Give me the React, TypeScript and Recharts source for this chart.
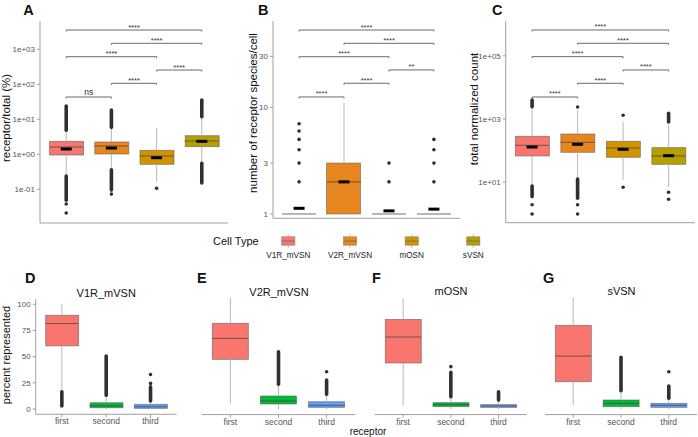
import React from 'react';
import { ComposedChart, Bar, Scatter, XAxis, YAxis, ReferenceLine } from 'recharts';

const FONT = '"Liberation Sans", Arial, Helvetica, sans-serif';

// ---------- categories ----------
const cellTypes = ['V1R_mVSN', 'V2R_mVSN', 'mOSN', 'sVSN'];
const cellColors = ['#F8766D', '#E7851E', '#D19300', '#B79F00'];
const ranks = ['first', 'second', 'third'];
const rankColors = ['#F8766D', '#00BA38', '#619CFF'];

// ---------- Panel A: receptor/total (%) ----------
const aQ1 = [0.955, 1.02, 0.518, 1.65];
const aMedian = [1.62, 1.73, 0.894, 2.4];
const aQ3 = [2.35, 2.25, 1.3, 3.4];
const aMean = [1.42, 1.51, 0.8, 2.35];
const aWhiskerLow = [0.256, 0.41, 0.162, 0.56];
const aWhiskerHigh = [4.6, 5.6, 5.64, 11.6];
const aOutlierRuns = [[1, 4.9, 24], [1, 0.049, 0.24], [2, 5.9, 18.4], [2, 0.095, 0.36], [4, 11.9, 35.6], [4, 0.151, 0.55]];
const aOutliers = [[1, 0.038], [1, 0.021], [2, 0.073], [3, 0.107]];
const aBrackets = [[1, 2, 43.4, 'ns'], [2, 3, 106.8, '****'], [3, 4, 256, '****'], [1, 3, 615, '****'], [2, 4, 1483, '****'], [1, 4, 3560, '****']];
const aTicks = [0.1, 1, 10, 100, 1000];

// ---------- Panel B: number of receptor species/cell ----------
const bQ1 = [1, 1, 1, 1];
const bMedian = [1, 2, 1, 1];
const bQ3 = [1, 3, 1, 1];
const bMean = [1.13, 2.0, 1.07, 1.11];
const bWhiskerLow = [1, 1, 1, 1];
const bWhiskerHigh = [1, 11, 1, 1];
const bOutlierRuns: number[][] = [];
const bOutliers = [[1, 2], [1, 3], [1, 4], [1, 5], [1, 6], [1, 7], [3, 2], [3, 3], [4, 2], [4, 3], [4, 4], [4, 5]];
const bBrackets = [[1, 2, 12.5, '****'], [2, 3, 16.8, '****'], [3, 4, 22.4, '**'], [1, 3, 29.8, '****'], [2, 4, 39.8, '****'], [1, 4, 53, '****']];
const bTicks = [1, 3, 10, 30];

// ---------- Panel C: total normalized count ----------
const cQ1 = [67.5, 88.4, 61.4, 36.8];
const cMedian = [147, 183, 121, 67.5];
const cQ3 = [283, 335, 197, 124];
const cMean = [130, 158, 110, 69];
const cWhiskerLow = [8.1, 13.3, 11.7, 7];
const cWhiskerHigh = [2400, 1900, 822, 646];
const cOutlierRuns = [[1, 2450, 3990], [1, 3.5, 7.6], [2, 3.1, 12.5], [4, 800, 1510]];
const cOutliers = [[1, 1.94], [1, 0.99], [2, 2400], [2, 1.94], [2, 0.99], [3, 1310], [3, 6.9], [4, 4.8], [4, 2.9]];
const cBrackets = [[1, 2, 4970, '****'], [2, 3, 13490, '****'], [3, 4, 35560, '****'], [1, 3, 93800, '****'], [2, 4, 249000, '****'], [1, 4, 655000, '****']];
const cTicks = [10, 1000, 100000];

// ---------- Panels D-G: percent represented ----------
const pctTicks = [0, 25, 50, 75, 100];

const dQ1 = [60.3, 1.2, 0.7];
const dMedian = [81.6, 3.1, 2.2];
const dQ3 = [89.5, 6.0, 4.5];
const dWhiskerLow = [17, 0, 0];
const dWhiskerHigh = [100, 12.4, 7];
const dOutlierRuns = [[1, 2.9, 16.5], [2, 13.2, 50.5], [3, 7.8, 21.2]];
const dOutliers = [[3, 24.5], [3, 33]];

const eQ1 = [44.6, 4.5, 1.5];
const eMedian = [63.4, 7.2, 3.3];
const eQ3 = [76.9, 11.7, 6.5];
const eWhiskerLow = [5.1, 0, 0];
const eWhiskerHigh = [100, 21.5, 12.6];
const eOutlierRuns = [[2, 22.2, 51.4], [3, 13.2, 26]];
const eOutliers = [[3, 33.5]];

const fQ1 = [41.3, 2.1, 1.5];
const fMedian = [64.6, 3.9, 2.7];
const fQ3 = [80.4, 5.7, 3.9];
const fWhiskerLow = [3, 0, 0];
const fWhiskerHigh = [99.5, 10.3, 7.5];
const fOutlierRuns = [[2, 11, 33], [3, 8, 15.5]];
const fOutliers = [[2, 38]];

const gQ1 = [24.5, 2.1, 1.5];
const gMedian = [47.5, 5.1, 3.3];
const gQ3 = [75.1, 8.1, 5.1];
const gWhiskerLow = [3.6, 0, 0];
const gWhiskerHigh = [100, 16, 9];
const gOutlierRuns = [[2, 16.4, 46.4], [3, 9.6, 20.6]];
const gOutliers = [[3, 33.5]];

const fmtExp = (v: number) => {
  const e = Math.round(Math.log10(v));
  const a = Math.abs(e);
  return `1e${e < 0 ? '-' : '+'}${a < 10 ? '0' + a : a}`;
};

const AXIS = '#a0a0a0';
const TICK_TEXT = '#555555';

function BoxPanel(props: any) {
  const {
    left, top, width, height, margin, yWidth, xHeight, cats, colors,
    q1, med, q3, mean, wLo, wHi, runs, pts, brackets,
    yScale, yDomain, yTicks, yFmt, hideY, showXLabels, boxW, xDomain,
  } = props;
  const rows = cats.map((c: string, i: number) => ({ x: i + 1, box: [q1[i], q3[i]], color: colors[i] }));
  const medRows = med.map((v: number, i: number) => ({ x: i + 1, y: v }));
  const meanRows = (mean || []).map((v: number, i: number) => ({ x: i + 1, y: v }));
  const ptRows = pts.map((p: number[]) => ({ x: p[0], y: p[1] }));

  const BoxShape = (p: any) => {
    const h = Math.abs(p.height || 0);
    const y = p.height < 0 ? p.y + p.height : p.y;
    if (h < 0.5) return <g />;
    return (
      <rect x={p.x} y={y} width={p.width} height={h} fill={p.payload.color}
        stroke="#666" strokeOpacity={0.75} strokeWidth={0.8} />
    );
  };
  const MedianShape = (p: any) => (
    <line x1={p.cx - boxW / 2} x2={p.cx + boxW / 2} y1={p.cy} y2={p.cy} stroke="#4a4a4a" strokeOpacity={0.8} strokeWidth={1} />
  );
  const MeanShape = (p: any) => (
    <rect x={p.cx - 5.5} y={p.cy - 1.5} width={11} height={3} fill="#000" />
  );
  const PointShape = (p: any) => <circle cx={p.cx} cy={p.cy} r={1.8} fill="#303030" />;
  const RunShape = (p: any) => (
    <line x1={p.x1} y1={p.y1} x2={p.x2} y2={p.y2} stroke="#303030" strokeWidth={3.6} strokeLinecap="round" />
  );
  const WhiskerShape = (p: any) => (
    <line x1={p.x1} y1={p.y1} x2={p.x2} y2={p.y2} stroke="#b8b8b8" strokeWidth={1} />
  );
  const BracketShape = (p: any) => (
    <path d={`M${p.x1},${p.y1 + 1.5}V${p.y1}H${p.x2}V${p.y2 + 1.5}`} stroke="#5a5a5a" strokeWidth={0.9} fill="none" />
  );
  const bracketLabel = (txt: string) => (lp: any) => {
    const vb = lp.viewBox || {};
    const cx = (vb.x || 0) + (vb.width || 0) / 2;
    const ns = txt === 'ns';
    return (
      <text x={cx} y={(vb.y || 0) - (ns ? 1.5 : 0.5)} textAnchor="middle"
        fontFamily={FONT} fontSize={ns ? 8.5 : 7.5} fill="#333">{txt}</text>
    );
  };

  return (
    <div style={{ position: 'absolute', left, top }}>
      <ComposedChart width={width} height={height} margin={margin} data={rows}>
        <XAxis
          type="number" dataKey="x" domain={xDomain} allowDataOverflow
          ticks={cats.map((c: string, i: number) => i + 1)}
          tickFormatter={(v: number) => cats[Math.round(v) - 1] || ''}
          height={xHeight}
          axisLine={{ stroke: AXIS, strokeWidth: 1 }}
          tickLine={showXLabels ? { stroke: AXIS } : false}
          tick={showXLabels ? { fontSize: 8.5, fill: TICK_TEXT, fontFamily: FONT } : false}
          tickSize={3} tickMargin={1}
          interval={0}
        />
        <YAxis
          type="number" scale={yScale} domain={yDomain} allowDataOverflow
          ticks={yTicks} tickFormatter={yFmt} width={yWidth} hide={hideY}
          axisLine={{ stroke: AXIS, strokeWidth: 1 }}
          tickLine={{ stroke: AXIS }}
          tick={{ fontSize: 8, fill: TICK_TEXT, fontFamily: FONT }}
          tickSize={3} tickMargin={2}
          interval={0}
        />
        {cats.map((c: string, i: number) => (
          q3[i] !== wHi[i] ? (
            <ReferenceLine key={'wh' + i} segment={[{ x: i + 1, y: q3[i] }, { x: i + 1, y: wHi[i] }]} shape={WhiskerShape} ifOverflow="visible" />
          ) : null
        ))}
        {cats.map((c: string, i: number) => (
          q1[i] !== wLo[i] ? (
            <ReferenceLine key={'wl' + i} segment={[{ x: i + 1, y: q1[i] }, { x: i + 1, y: wLo[i] }]} shape={WhiskerShape} ifOverflow="visible" />
          ) : null
        ))}
        {runs.map((r: number[], i: number) => (
          <ReferenceLine key={'run' + i} segment={[{ x: r[0], y: r[1] }, { x: r[0], y: r[2] }]} shape={RunShape} ifOverflow="visible" />
        ))}
        <Bar dataKey="box" barSize={boxW} isAnimationActive={false} shape={BoxShape} />
        <Scatter data={medRows} dataKey="y" isAnimationActive={false} shape={MedianShape} />
        {mean ? <Scatter data={meanRows} dataKey="y" isAnimationActive={false} shape={MeanShape} /> : null}
        <Scatter data={ptRows} dataKey="y" isAnimationActive={false} shape={PointShape} />
        {(brackets || []).map((b: any[], i: number) => (
          <ReferenceLine
            key={'br' + i}
            segment={[{ x: b[0], y: b[2] }, { x: b[1], y: b[2] }]}
            shape={BracketShape}
            ifOverflow="visible"
            label={bracketLabel(b[3])}
          />
        ))}
      </ComposedChart>
    </div>
  );
}

const TOP_X = [0.42, 4.58];
const BOT_X = [0.41, 3.59];

export default function App() {
  const letter = { fontFamily: FONT, fontSize: 14.5, fontWeight: 700, fill: '#111' } as any;
  const title = { fontFamily: FONT, fontSize: 11.5, fill: '#111' } as any;
  const legendCenters = [288.3, 350, 411.7, 473.3];
  return (
    <div style={{ position: 'absolute', left: 0, top: 0, width: 698, height: 437, background: '#fff', overflow: 'hidden' }}>
      <BoxPanel
        left={0} top={0} width={228} height={225} margin={{ top: 21, right: 0, left: 0, bottom: 0 }}
        yWidth={40} xHeight={2} cats={cellTypes} colors={cellColors}
        q1={aQ1} med={aMedian} q3={aQ3} mean={aMean} wLo={aWhiskerLow} wHi={aWhiskerHigh}
        runs={aOutlierRuns} pts={aOutliers} brackets={aBrackets}
        yScale="log" yDomain={[0.0109, 6440]} yTicks={aTicks} yFmt={fmtExp}
        boxW={34} xDomain={TOP_X}
      />
      <BoxPanel
        left={230} top={0} width={230} height={220.3} margin={{ top: 21, right: 0, left: 0, bottom: 0 }}
        yWidth={43} xHeight={2} cats={cellTypes} colors={cellColors}
        q1={bQ1} med={bMedian} q3={bQ3} mean={bMean} wLo={bWhiskerLow} wHi={bWhiskerHigh}
        runs={bOutlierRuns} pts={bOutliers} brackets={bBrackets}
        yScale="log" yDomain={[0.911, 64.4]} yTicks={bTicks} yFmt={(v: number) => String(v)}
        boxW={34} xDomain={TOP_X}
      />
      <BoxPanel
        left={465} top={0} width={230} height={224.7} margin={{ top: 21, right: 0, left: 0, bottom: 0 }}
        yWidth={40.7} xHeight={2} cats={cellTypes} colors={cellColors}
        q1={cQ1} med={cMedian} q3={cQ3} mean={cMean} wLo={cWhiskerLow} wHi={cWhiskerHigh}
        runs={cOutlierRuns} pts={cOutliers} brackets={cBrackets}
        yScale="log" yDomain={[0.523, 1262000]} yTicks={cTicks} yFmt={fmtExp}
        boxW={34} xDomain={TOP_X}
      />

      <BoxPanel
        left={0} top={285} width={176.7} height={149.3} margin={{ top: 14, right: 0, left: 0, bottom: 0 }}
        yWidth={35.7} xHeight={20} cats={ranks} colors={rankColors}
        q1={dQ1} med={dMedian} q3={dQ3} wLo={dWhiskerLow} wHi={dWhiskerHigh}
        runs={dOutlierRuns} pts={dOutliers} showXLabels
        yScale="linear" yDomain={[-5, 105]} yTicks={pctTicks} yFmt={(v: number) => String(v)}
        boxW={33} xDomain={BOT_X}
      />
      <BoxPanel
        left={190} top={285} width={165} height={149.6} margin={{ top: 7, right: 0, left: 12, bottom: 0 }}
        yWidth={0} hideY xHeight={20} cats={ranks} colors={rankColors}
        q1={eQ1} med={eMedian} q3={eQ3} wLo={eWhiskerLow} wHi={eWhiskerHigh}
        runs={eOutlierRuns} pts={eOutliers} showXLabels
        yScale="linear" yDomain={[-5, 105]} yTicks={pctTicks} yFmt={(v: number) => String(v)}
        boxW={36} xDomain={BOT_X}
      />
      <BoxPanel
        left={365} top={285} width={161.7} height={149.6} margin={{ top: 7, right: 0, left: 10, bottom: 0 }}
        yWidth={0} hideY xHeight={20} cats={ranks} colors={rankColors}
        q1={fQ1} med={fMedian} q3={fQ3} wLo={fWhiskerLow} wHi={fWhiskerHigh}
        runs={fOutlierRuns} pts={fOutliers} showXLabels
        yScale="linear" yDomain={[-5, 105]} yTicks={pctTicks} yFmt={(v: number) => String(v)}
        boxW={36} xDomain={BOT_X}
      />
      <BoxPanel
        left={535} top={285} width={162} height={149.6} margin={{ top: 7, right: 0, left: 10, bottom: 0 }}
        yWidth={0} hideY xHeight={20} cats={ranks} colors={rankColors}
        q1={gQ1} med={gMedian} q3={gQ3} wLo={gWhiskerLow} wHi={gWhiskerHigh}
        runs={gOutlierRuns} pts={gOutliers} showXLabels
        yScale="linear" yDomain={[-5, 105]} yTicks={pctTicks} yFmt={(v: number) => String(v)}
        boxW={36} xDomain={BOT_X}
      />

      <svg width={698} height={437} style={{ position: 'absolute', left: 0, top: 0, pointerEvents: 'none' }}>
        <text x={23.3} y={15} {...letter}>A</text>
        <text x={258} y={15} {...letter}>B</text>
        <text x={492} y={15} {...letter}>C</text>
        <text x={25} y={282.5} {...letter}>D</text>
        <text x={197} y={282.5} {...letter}>E</text>
        <text x={372} y={282.5} {...letter}>F</text>
        <text x={543} y={283} {...letter}>G</text>

        <text transform="translate(10,118) rotate(-90)" textAnchor="middle" {...title}>receptor/total (%)</text>
        <text transform="translate(257,113) rotate(-90)" textAnchor="middle" {...title}>number of receptor species/cell</text>
        <text transform="translate(478,109) rotate(-90)" textAnchor="middle" {...title}>total normalized count</text>
        <text transform="translate(10,355) rotate(-90)" textAnchor="middle" {...title} fontSize={11}>percent represented</text>
        <text x={368} y={434.5} textAnchor="middle" {...title} fontSize={10}>receptor</text>

        <text x={106.2} y={297} textAnchor="middle" {...title} fontSize={11}>{cellTypes[0]}</text>
        <text x={279} y={295.5} textAnchor="middle" {...title} fontSize={11}>{cellTypes[1]}</text>
        <text x={451} y={295} textAnchor="middle" {...title} fontSize={11}>{cellTypes[2]}</text>
        <text x={621.5} y={294.5} textAnchor="middle" {...title} fontSize={11}>{cellTypes[3]}</text>

        <text x={213} y={245} {...title} fontSize={11}>Cell Type</text>
        {cellTypes.map((c, i) => (
          <g key={c}>
            <line x1={legendCenters[i]} x2={legendCenters[i]} y1={234} y2={248} stroke="#b8b8b8" strokeWidth={0.8} />
            <rect x={legendCenters[i] - 6.6} y={236.8} width={13.2} height={8.4} fill={cellColors[i]} stroke="#888" strokeWidth={0.6} />
            <line x1={legendCenters[i] - 6.6} x2={legendCenters[i] + 6.6} y1={241} y2={241} stroke="#666" strokeWidth={0.7} />
            <text x={legendCenters[i]} y={257.5} textAnchor="middle" fontFamily={FONT} fontSize={8.2} fill="#222">{c}</text>
          </g>
        ))}
      </svg>
    </div>
  );
}
